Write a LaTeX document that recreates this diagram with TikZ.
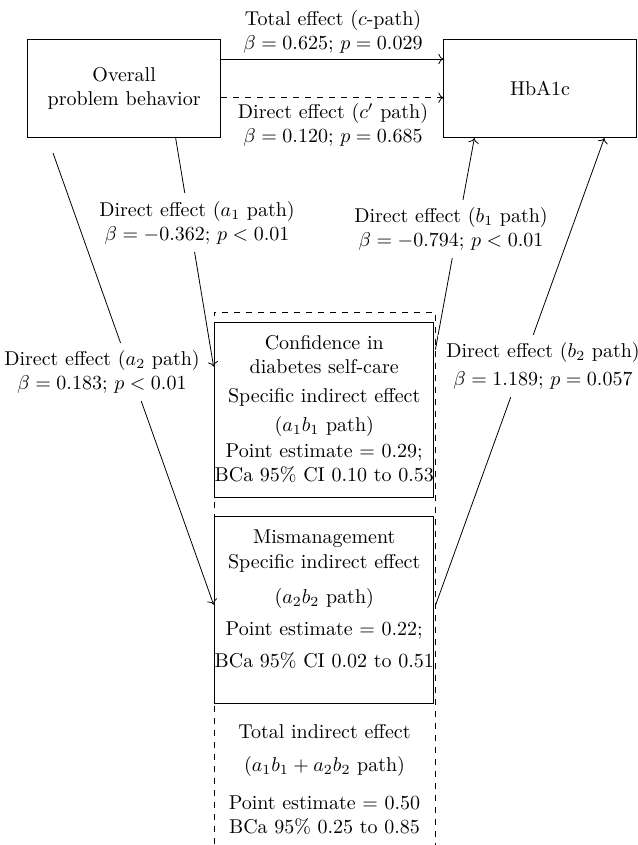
\documentclass[tikz,border=0pt]{standalone}
\usepackage{amsmath}
\usetikzlibrary{calc,arrows.meta,positioning}

\begin{document}
\begin{tikzpicture}[x=0.5pt,y=-0.5pt,font=\fontsize{10}{12}\selectfont,
  box/.style={draw,align=center,inner sep=0pt},
  note/.style={align=center,inner sep=4pt},
  lab/.style={note,fill=white}]
\useasboundingbox (0,0) rectangle (637,845);
\node[box,minimum width=96.5pt,minimum height=49.35pt] (overall) at (124.15,88.35)
{Overall\\problem behavior};
\node[box,minimum width=96.25pt,minimum height=49.35pt] (hba1c) [right=111.15pt of overall]
{HbA1c};
\node[box,dashed,minimum width=110.5pt,minimum height=284pt] (indirect) at (324.5,596)
{};
\node[box,minimum width=106.75pt,minimum height=87.5pt] (confidence) at (324.25,409.5)
{Confidence in\\diabetes self-care\\[2.5pt]Specific indirect effect\\[2.5pt]($a_1b_1$ path)\\[1pt]Point estimate = 0.29;\\BCa 95\% CI 0.10 to 0.53};
\node[box,minimum width=106.5pt,minimum height=93.5pt] (mismanage) [below=9.5pt of confidence]
{Mismanagement\\[0.5pt]Specific indirect effect\\[5.5pt]($a_2b_2$ path)\\[4pt]Point estimate = 0.22;\\[4pt]BCa 95\% CI 0.02 to 0.51\\ \mbox{}};
\node[align=center] (total) at (324.5,779.5)
{Total indirect effect\\[4.5pt]($a_1b_1 + a_2b_2$ path)\\[7pt]Point estimate = 0.50\\BCa 95\% 0.25 to 0.85};

\coordinate (a2start) at (53,153);
\draw[->] ($(overall.east)+(0,-29.35)$) -- ($(hba1c.west)+(0,-29.35)$);
\draw[->,dashed] ($(overall.east)+(0,9.35)$) -- ($(hba1c.west)+(0,9.35)$);
\draw[->] ($(overall.south west)+(148.4,0)$) -- ($(indirect.north west)+(0,55)$);
\draw[->] (a2start) -- ($(indirect.north west)+(0,293)$);
\draw[->] ($(indirect.north east)+(0,38)$) -- ($(hba1c.south west)+(31,0)$);
\draw[->] ($(indirect.north east)+(0,294)$) -- ($(hba1c.south west)+(161,0)$);

\node[note] (ctot) at (333,31.5)
{Total effect ($c$-path)\\$\beta = 0.625$; $p = 0.029$};
\node[note] (cdir) at (333,125)
{Direct effect ($c'$ path)\\$\beta = 0.120$; $p = 0.685$};
\node[lab] (a1lab) at (197,222.5)
{Direct effect ($a_1$ path)\\$\beta = -0.362$; $p < 0.01$};
\node[lab] (b1lab) at (451,229)
{Direct effect ($b_1$ path)\\$\beta = -0.794$; $p < 0.01$};
\node[lab] (a2lab) at (102,372)
{Direct effect ($a_2$ path)\\$\beta = 0.183$; $p < 0.01$};
\node[lab] (b2lab) at (543,366)
{Direct effect ($b_2$ path)\\[2pt]$\beta = 1.189$; $p = 0.057$};
\end{tikzpicture}
\end{document}
